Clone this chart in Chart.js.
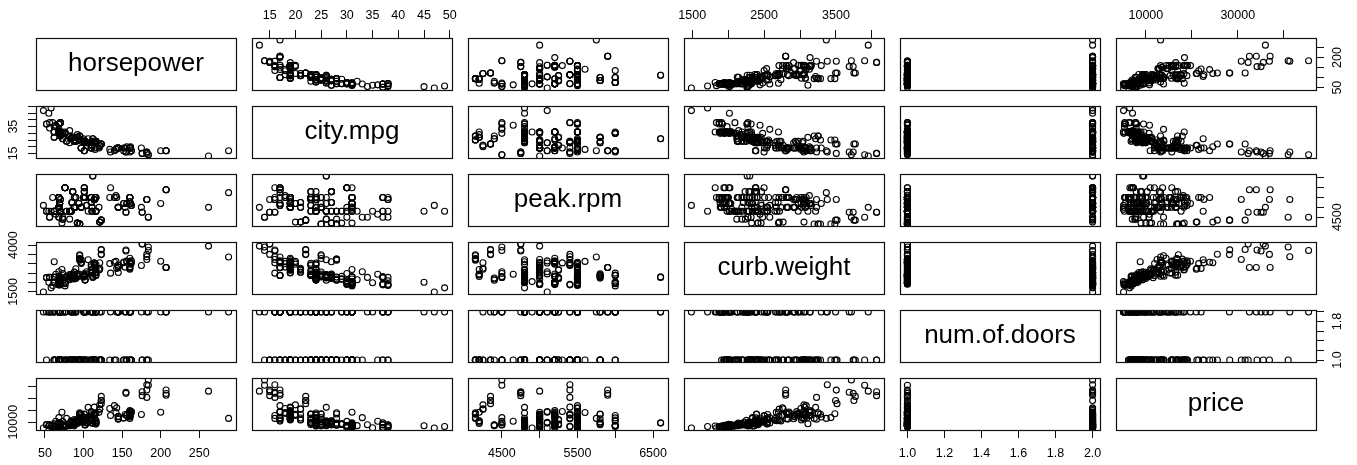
<!DOCTYPE html>
<html>
<head>
<meta charset="utf-8">
<title>pairs</title>
<script src="https://cdn.jsdelivr.net/npm/chart.js@4"></script>
<style>
html, body { margin: 0; background: #fff; overflow: hidden; }
#plot { position: relative; width: 1357px; height: 465px; overflow: hidden; }
#plot canvas { position: absolute; }
</style>
</head>
<body>
<div id="plot"></div>
<script>
const horsepower = [
  111,111,154,
  102,115,110,110,110,140,160,
  101,101,121,121,121,182,182,182,
  48,70,70,
  68,68,102,68,68,68,68,88,145,
  58,76,60,76,76,76,76,86,86,86,86,101,100,
  78,78,90,
  176,176,262,
  68,68,68,68,68,101,101,101,135,84,84,84,84,64,84,120,72,
  123,123,123,123,155,155,184,184,
  175,
  68,68,68,102,116,88,145,145,145,88,88,116,116,
  69,55,69,69,69,69,69,69,69,69,69,69,152,160,152,160,160,200,
  97,95,97,95,97,95,95,95,97,95,142,
  68,102,68,68,68,88,145,
  143,207,207,207,288,
  104,104,
  110,110,160,160,160,160,
  69,73,73,82,82,94,111,111,82,94,82,111,
  62,62,62,62,62,62,70,70,56,56,70,70,70,70,70,112,112,116,116,116,116,116,116,92,73,92,92,92,161,161,156,156,
  52,85,52,85,85,68,100,90,90,110,68,88,
  114,114,114,114,162,162,114,160,134,106,114
];
const cityMpg = [
  21,21,19,
  24,18,19,19,19,17,16,
  23,23,21,21,20,16,16,15,
  47,38,38,
  37,31,24,31,31,31,31,24,19,
  49,31,38,30,30,30,30,27,27,27,27,24,25,
  24,24,24,
  15,15,13,
  30,31,31,31,31,17,17,17,16,26,26,26,26,36,26,19,31,
  22,22,22,22,16,16,14,14,
  19,
  37,31,31,24,23,25,19,19,19,25,25,23,23,
  31,45,31,31,31,31,31,31,31,31,31,31,17,19,19,19,19,17,
  19,28,19,25,19,28,25,25,19,28,18,
  37,24,31,31,31,24,19,
  19,17,17,17,17,
  23,23,
  21,21,19,19,19,19,
  31,26,26,32,28,26,24,24,28,25,23,23,
  35,31,31,31,27,27,30,30,34,38,38,28,28,29,29,26,26,24,24,24,24,24,24,29,30,27,27,27,20,19,20,19,
  37,27,37,27,27,37,26,24,24,19,33,25,
  23,23,24,24,17,17,23,19,18,26,19
];
const peakRpm = [
  5000,5000,5000,
  5500,5500,5500,5500,5500,5500,5500,
  5800,5800,4250,4250,4250,5400,5400,5400,
  5100,5400,5400,
  5500,5500,5500,5500,5500,5500,5500,5000,5000,
  4800,6000,5500,6000,6000,6000,6000,5800,5800,5800,5800,5800,5500,
  4800,4800,5000,
  4750,4750,5000,
  5000,5000,5000,5000,5000,6000,6000,6000,6000,4800,4800,4800,4800,4650,4800,5000,4200,
  4350,4350,4350,4350,4750,4750,4500,4500,
  5000,
  5500,5500,5500,5500,5500,5000,5000,5000,5000,5000,5000,5500,5500,
  5200,4800,5200,5200,5200,5200,5200,5200,5200,5200,5200,5200,5200,5200,5200,5200,5200,5200,
  5000,4150,5000,4150,5000,4150,4150,4150,5000,4150,5600,
  5500,5500,5500,5500,5500,5000,5000,
  5500,5900,5900,5900,5750,
  5100,5100,
  5250,5250,5500,5500,5500,5500,
  4900,4400,4400,4800,4400,5200,4800,4800,4800,5200,4800,4800,
  4800,4800,4800,4800,4800,4800,4800,4800,4500,4500,4800,4800,4800,4800,4800,6600,6600,4800,4800,4800,4800,4800,4800,4200,4500,4200,4200,4200,5200,5200,5200,5200,
  4800,5250,4800,5250,5250,4500,5500,5500,5500,5500,4500,5500,
  5400,5400,5400,5400,5100,5100,5400,5300,5500,4800,5400
];
const curbWeight = [
  2548,2548,2823,
  2337,2824,2507,2844,2954,3086,3053,
  2395,2395,2710,2765,3055,3230,3380,3505,
  1488,1874,1909,
  1876,1876,2128,1967,1989,1989,2191,2535,2811,
  1713,1819,1837,1940,1956,2010,2024,2236,2289,2304,2372,2465,2293,
  2337,2337,2734,
  4066,4066,3950,
  1890,1900,1905,1945,1950,2380,2380,2385,2500,2385,2410,2385,2410,2443,2425,2670,2700,
  3515,3750,3495,3770,3740,3685,3900,3715,
  2910,
  1918,1944,2004,2145,2370,2328,2833,2921,2926,2365,2405,2403,2403,
  1889,2017,1918,1938,2024,1951,2028,1971,2037,2008,2324,2302,3095,3296,3060,3071,3139,3139,
  3020,3197,3230,3430,3075,3252,3285,3485,3075,3252,3130,
  1918,2128,1967,1989,1989,2191,2535,
  2756,2800,2800,2800,3366,
  2579,2460,
  2658,2695,2707,2758,2808,2847,
  2050,2120,2240,2145,2190,2340,2385,2510,2290,2455,2420,2650,
  1985,2040,2015,2280,2290,3110,2081,2109,2275,2275,2094,2122,2140,2169,2204,2265,2300,2540,2536,2551,2679,2714,2975,2326,2480,2414,2414,2458,2976,3016,3131,3151,
  2261,2209,2264,2212,2275,2319,2300,2254,2221,2661,2579,2563,
  2912,3034,2935,3042,3045,3157,2952,3049,3012,3217,3062
];
const numDoors = [
  2,2,2,
  1,1,2,1,1,1,2,
  2,1,2,1,1,1,2,1,
  2,2,1,
  2,2,2,1,1,1,1,1,2,
  2,2,2,2,2,1,1,2,2,1,1,1,2,
  1,1,2,
  1,1,2,
  2,2,2,1,1,2,2,2,2,2,1,2,1,1,1,1,1,
  1,1,2,1,1,2,1,2,
  2,
  2,2,2,1,2,2,2,2,2,1,1,1,1,
  2,2,2,1,1,2,2,1,1,2,1,1,1,2,1,2,2,2,
  1,1,1,1,1,1,1,1,1,1,1,
  2,2,1,1,1,1,2,
  2,2,2,2,2,
  1,2,
  2,1,2,1,2,1,
  2,2,2,1,1,1,1,1,1,1,1,1,
  2,2,1,1,1,1,1,1,2,2,1,1,1,2,2,2,2,2,2,2,2,2,2,1,1,1,1,1,2,2,1,1,
  2,2,1,1,1,1,1,2,2,1,1,1,
  1,1,1,1,1,1,1,1,1,1,1
];
const price = [
  13495,16500,16500,
  13950,17450,15250,17710,18920,23875,13207,
  16430,16925,20970,21105,24565,30760,41315,36880,
  5151,6295,6575,
  5572,6377,7957,6229,6692,7609,8558,8921,12964,
  6479,6855,5399,6529,7129,7295,7295,7895,9095,8845,10295,12945,10345,
  6785,13207,11048,
  32250,35550,36000,
  5195,6095,6795,6695,7395,10945,11845,13645,15645,8845,8495,10595,10245,10795,11245,18280,18344,
  25552,28248,28176,31600,34184,35056,40960,45400,
  16503,
  5389,6189,6669,7689,9959,8499,12629,14869,14489,6989,8189,9279,9279,
  5499,7099,6649,6849,7349,7299,7799,7499,7999,8249,8949,9549,13499,14399,13499,17199,19699,18399,
  11900,13200,12440,13860,15580,16900,16695,17075,16630,17950,18150,
  5572,7957,6229,6692,7609,8921,12764,
  22018,32528,34028,37028,13207,
  9295,9895,
  11850,12170,15040,15510,18150,18620,
  5118,7053,7603,7126,7775,9960,9233,11259,7463,10198,8013,11694,
  5348,6338,6488,6918,7898,8778,6938,7198,7898,7788,7738,8358,9258,8058,8238,9298,9538,8449,9639,9989,11199,11549,17669,8948,10698,9988,10898,11248,16558,15998,15690,15750,
  7775,7975,7995,8195,8495,9495,9995,11595,9980,13295,13845,12290,
  12940,13415,15985,16515,18420,18950,16845,19045,21485,22470,22625
];

const varNames = ['horsepower', 'city.mpg', 'peak.rpm', 'curb.weight', 'num.of.doors', 'price'];
const varValues = [horsepower, cityMpg, peakRpm, curbWeight, numDoors, price];

const axisTicks = [
  [50, 100, 150, 200, 250],
  [15, 20, 25, 30, 35, 40, 45, 50],
  [4500, 5000, 5500, 6000, 6500],
  [1500, 2000, 2500, 3000, 3500, 4000],
  [1.0, 1.2, 1.4, 1.6, 1.8, 2.0],
  [10000, 20000, 30000, 40000]
];
// R drops the labels that would overlap, so each side has its own list
const xLabels = [
  [50, 100, 150, 200, 250],
  [15, 20, 25, 30, 35, 40, 45, 50],
  [4500, 5500, 6500],
  [1500, 2500, 3500],
  [1.0, 1.2, 1.4, 1.6, 1.8, 2.0],
  [10000, 30000]
];
const yLabels = [
  [50, 200],
  [15, 35],
  [4500],
  [1500, 4000],
  [1.0, 1.8],
  [10000]
];

const colLeft = [36, 252, 468, 684, 900, 1116];
const rowTop = [38, 106, 174, 242, 310, 378];
const panelW = 200;
const panelH = 52;
const margin = 36;
const axisSize = 34;
const fontFamily = '"Liberation Sans", Arial, sans-serif';
const tickFontSize = 12.5;

const measureCtx = document.createElement('canvas').getContext('2d');
measureCtx.font = tickFontSize + 'px ' + fontFamily;

const panelBox = {
  id: 'panelBox',
  afterDraw(chart, args, opts) {
    const a = chart.chartArea;
    const c = chart.ctx;
    c.save();
    c.strokeStyle = '#111';
    c.lineWidth = 1.2;
    c.strokeRect(a.left + 0.5, a.top + 0.5, a.right - a.left, a.bottom - a.top);
    if (opts.label) {
      c.fillStyle = '#000';
      c.font = '26px ' + fontFamily;
      c.textAlign = 'center';
      c.textBaseline = 'middle';
      c.fillText(opts.label, (a.left + a.right) / 2, (a.top + a.bottom) / 2);
    }
    c.restore();
  }
};

function rangeOf(values) {
  const lo = Math.min(...values);
  const hi = Math.max(...values);
  const pad = (hi - lo) * 0.04;
  return { min: lo - pad, max: hi + pad };
}

function tickText(v, idx) {
  return idx === 4 ? v.toFixed(1) : String(v);
}

// rotated labels are placed from their unrotated width, so take it back out of the padding
function yPadding(idx, labels) {
  const widest = Math.max(...labels.map(l => measureCtx.measureText(tickText(l, idx)).width));
  return 14 - widest / 2;
}

function makeScale(idx, position, labels, show) {
  const isY = position === 'left' || position === 'right';
  const r = rangeOf(varValues[idx]);
  const scale = {
    type: 'linear',
    position: position,
    display: show,
    min: r.min,
    max: r.max,
    border: { display: false },
    grid: { drawOnChartArea: false, drawTicks: true, tickLength: 8, color: '#111', lineWidth: 1 },
    ticks: {
      autoSkip: false,
      color: '#000',
      font: { family: fontFamily, size: tickFontSize },
      padding: isY ? yPadding(idx, labels) : (position === 'bottom' ? 8 : 7),
      minRotation: isY ? 90 : 0,
      maxRotation: isY ? 90 : 0,
      callback: (v) => {
        const hit = labels.some(l => Math.abs(l - v) < 1e-6);
        return hit ? tickText(v, idx) : '';
      }
    },
    afterBuildTicks: (s) => { s.ticks = axisTicks[idx].map(v => ({ value: v })); },
    afterFit: (s) => {
      if (!show) return;
      if (isY) s.width = axisSize; else s.height = axisSize;
    }
  };
  if (isY) scale.ticks.crossAlign = 'center';
  return scale;
}

const plot = document.getElementById('plot');

for (let row = 0; row < 6; row++) {
  for (let col = 0; col < 6; col++) {
    const cv = document.createElement('canvas');
    cv.width = panelW + margin * 2;
    cv.height = panelH + margin * 2;
    cv.style.left = (colLeft[col] - margin) + 'px';
    cv.style.top = (rowTop[row] - margin) + 'px';
    plot.appendChild(cv);

    const diagonal = row === col;
    const xTop = row === 0 && col % 2 === 1;
    const xBottom = row === 5 && col % 2 === 0;
    const yLeft = col === 0 && row % 2 === 1;
    const yRight = col === 5 && row % 2 === 0;

    const points = diagonal ? [] : varValues[col].map((v, i) => ({ x: v, y: varValues[row][i] }));

    new Chart(cv.getContext('2d'), {
      type: 'scatter',
      data: {
        datasets: [{
          data: points,
          pointStyle: 'circle',
          pointRadius: 3,
          pointBorderWidth: 1.1,
          pointBorderColor: '#000',
          pointBackgroundColor: 'rgba(0,0,0,0)',
          clip: 0
        }]
      },
      options: {
        responsive: false,
        animation: false,
        events: [],
        layout: {
          autoPadding: false,
          padding: {
            left: yLeft ? margin - axisSize : margin,
            right: yRight ? margin - axisSize : margin,
            top: xTop ? margin - axisSize : margin,
            bottom: xBottom ? margin - axisSize : margin
          }
        },
        scales: {
          x: makeScale(col, xTop ? 'top' : 'bottom', xLabels[col], xTop || xBottom),
          y: makeScale(row, yRight ? 'right' : 'left', yLabels[row], yLeft || yRight)
        },
        plugins: {
          legend: { display: false },
          title: { display: false },
          tooltip: { enabled: false },
          panelBox: { label: diagonal ? varNames[row] : '' }
        }
      },
      plugins: [panelBox]
    });
  }
}
</script>
</body>
</html>
